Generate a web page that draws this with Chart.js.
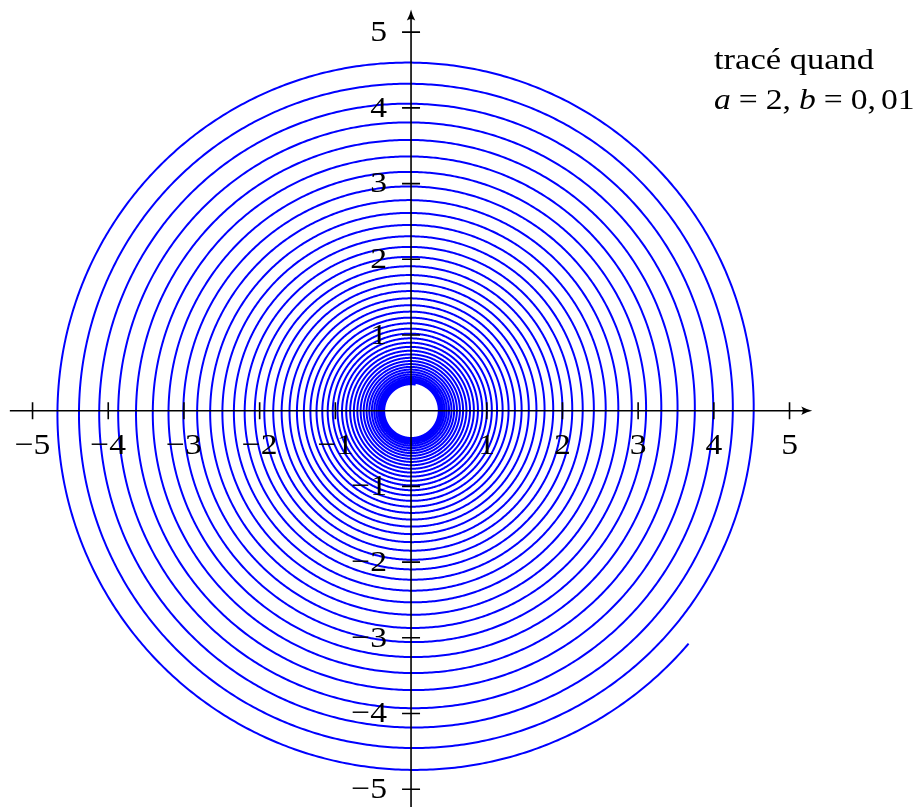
<!DOCTYPE html>
<html>
<head>
<meta charset="utf-8">
<script src="https://cdn.jsdelivr.net/npm/chart.js@4.4.1/dist/chart.umd.min.js"></script>
<style>
  html, body { margin: 0; padding: 0; background: #ffffff; }
  canvas { display: block; }
</style>
</head>
<body>
<canvas id="spiralChart" width="922" height="807"></canvas>
<script>
// Spiral parameters (as printed on the chart): r = a * exp(b * t)
const spiralA = [2];
const spiralB = [0.01];
// parameter range in degrees, sampled every 1 degree
const thetaRangeDeg = [-10000, 5000];

// Tick values and labels
const xTicks = [-5, -4, -3, -2, -1, 1, 2, 3, 4, 5];
const yTicks = [-5, -4, -3, -2, -1, 1, 2, 3, 4, 5];
const xTickLabels = ["\u22125", "\u22124", "\u22123", "\u22122", "\u22121", "1", "2", "3", "4", "5"];
const yTickLabels = ["\u22125", "\u22124", "\u22123", "\u22122", "\u22121", "1", "2", "3", "4", "5"];

// Visible window and axis extent
const xLimits = [-5.43, 6.75];
const yLimits = [-5.235, 5.425];
const axisExtent = [-5.3, 5.3];

const titleLines = ["trac\u00e9 quand"];

// Build the curve
const spiralPoints = [];
for (let d = thetaRangeDeg[0]; d <= thetaRangeDeg[1]; d++) {
    const t = d * Math.PI / 180;
    const r = spiralA[0] * Math.exp(spiralB[0] * t);
    spiralPoints.push({ x: r * Math.cos(t), y: r * Math.sin(t) });
}

const serif = '"Liberation Serif", "DejaVu Serif", serif';

function drawArrow(ctx, x, y, dir) {
    ctx.save();
    ctx.translate(x, y);
    if (dir === 'up') ctx.rotate(-Math.PI / 2);
    ctx.beginPath();
    ctx.moveTo(0, 0);
    ctx.quadraticCurveTo(-5, -1, -11, -4.2);
    ctx.quadraticCurveTo(-8, 0, -11, 4.2);
    ctx.quadraticCurveTo(-5, 1, 0, 0);
    ctx.closePath();
    ctx.fillStyle = '#000';
    ctx.fill();
    ctx.restore();
}

// draws text stretched a little horizontally, returns advance
function stretchText(ctx, txt, x, y, sx) {
    ctx.save();
    ctx.translate(x, y);
    ctx.scale(sx, 1);
    ctx.fillText(txt, 0, 0);
    const w = ctx.measureText(txt).width * sx;
    ctx.restore();
    return w;
}

const axesPlugin = {
    id: 'axesPlugin',
    afterDatasetsDraw(chart) {
        const ctx = chart.ctx;
        const xs = chart.scales.x;
        const ys = chart.scales.y;
        const x0 = xs.getPixelForValue(0);
        const y0 = ys.getPixelForValue(0);

        ctx.save();
        ctx.strokeStyle = '#000';
        ctx.lineWidth = 1.6;

        // x axis
        const xL = xs.getPixelForValue(axisExtent[0]);
        const xR = xs.getPixelForValue(axisExtent[1]);
        ctx.beginPath();
        ctx.moveTo(xL, y0);
        ctx.lineTo(xR - 4, y0);
        ctx.stroke();
        drawArrow(ctx, xR, y0, 'right');

        // y axis
        const yB = ys.getPixelForValue(axisExtent[0]);
        const yT = ys.getPixelForValue(axisExtent[1]);
        ctx.beginPath();
        ctx.moveTo(x0, yB);
        ctx.lineTo(x0, yT + 4);
        ctx.stroke();
        drawArrow(ctx, x0, yT, 'up');

        // ticks
        ctx.beginPath();
        xTicks.forEach(v => {
            const px = xs.getPixelForValue(v);
            ctx.moveTo(px, y0 - 8.5);
            ctx.lineTo(px, y0 + 8.5);
        });
        yTicks.forEach(v => {
            const py = ys.getPixelForValue(v);
            ctx.moveTo(x0 - 9, py);
            ctx.lineTo(x0 + 9, py);
        });
        ctx.stroke();

        // tick labels
        ctx.fillStyle = '#000';
        ctx.font = '30px ' + serif;
        ctx.textBaseline = 'middle';
        ctx.textAlign = 'left';
        xTicks.forEach((v, i) => {
            const w = ctx.measureText(xTickLabels[i]).width * 1.12;
            stretchText(ctx, xTickLabels[i], xs.getPixelForValue(v) - w / 2, y0 + 35, 1.12);
        });
        yTicks.forEach((v, i) => {
            const w = ctx.measureText(yTickLabels[i]).width * 1.12;
            stretchText(ctx, yTickLabels[i], x0 - 24 - w, ys.getPixelForValue(v) + 1, 1.12);
        });

        // annotation
        ctx.textBaseline = 'alphabetic';
        ctx.font = '30px ' + serif;
        stretchText(ctx, titleLines[0], 714, 69, 1.15);

        const parts = [
            { t: 'a', it: true, gap: 8 },
            { t: '=', it: false, gap: 8 },
            { t: '2,', it: false, gap: 8 },
            { t: 'b', it: true, gap: 8 },
            { t: '=', it: false, gap: 8 },
            { t: '0,', it: false, gap: 5 },
            { t: '01', it: false, gap: 0 }
        ];
        let cx = 714;
        parts.forEach(p => {
            ctx.font = (p.it ? 'italic ' : '') + '30px ' + serif;
            cx += stretchText(ctx, p.t, cx, 109, 1.12) + p.gap;
        });
        ctx.restore();
    }
};

new Chart(document.getElementById('spiralChart'), {
    type: 'scatter',
    data: {
        datasets: [{
            data: spiralPoints,
            showLine: true,
            borderColor: '#0000ff',
            borderWidth: 2,
            pointRadius: 0,
            pointHoverRadius: 0,
            fill: false,
            // tiny tension keeps Chart.js off its pixel-merging fast path
            tension: 0.001
        }]
    },
    options: {
        responsive: false,
        devicePixelRatio: 1,
        animation: false,
        events: [],
        layout: { padding: 0 },
        plugins: {
            legend: { display: false },
            tooltip: { enabled: false }
        },
        scales: {
            x: { type: 'linear', min: xLimits[0], max: xLimits[1], display: false },
            y: { type: 'linear', min: yLimits[0], max: yLimits[1], display: false }
        }
    },
    plugins: [axesPlugin]
});
</script>
</body>
</html>
